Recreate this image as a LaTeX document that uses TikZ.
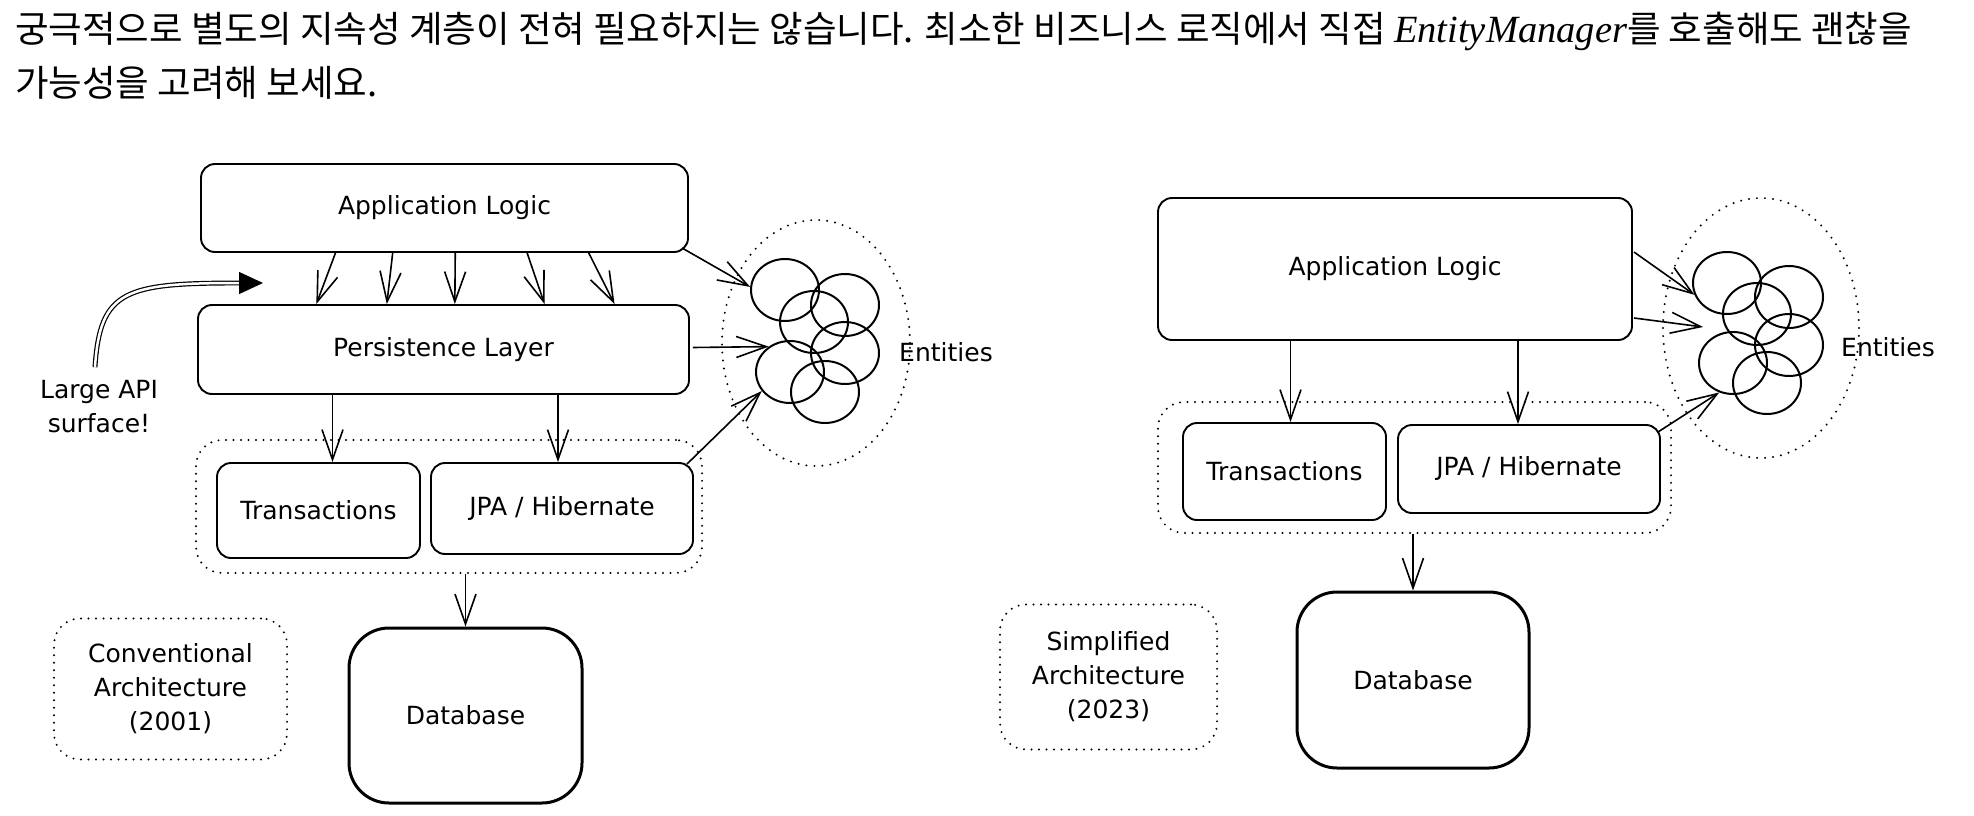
\documentclass[tikz,border=0pt]{standalone}
\usepackage{fontspec}
\setmainfont{DejaVu Sans}
\newfontfamily\krfont{Noto Sans CJK KR}
\newfontfamily\itfont{Liberation Serif}
\usepackage{tikz}
\usetikzlibrary{arrows.meta,shapes.geometric,calc}
\tikzstyle{box}=[draw, rounded corners=14pt, line width=1.9pt, inner sep=0pt,% plain sketch box
font=\fontsize{25}{30}\selectfont]
\tikzstyle{dbbox}=[box, rounded corners=40pt, line width=3pt]
\tikzstyle{dotbox}=[draw, rounded corners=26pt, line width=2.2pt, dash pattern=on 0pt off 7.5pt, line cap=round]
\tikzstyle{dotcloud}=[ellipse, draw, line width=2.2pt, dash pattern=on 0pt off 8pt, line cap=round, inner sep=0pt]
\tikzstyle{blob}=[ellipse, draw, line width=2pt, minimum width=68pt, minimum height=62pt, inner sep=0pt]
\tikzstyle{lbl}=[font=\fontsize{25}{34}\selectfont, align=center]
\tikzstyle{arr}=[-{Straight Barb[length=30pt,width=21pt]}, line width=1.6pt]

\begin{document}
\begin{tikzpicture}[x=1pt, y=-1pt]
\useasboundingbox (0,0) rectangle (1974,816);
\node[anchor=north west, inner sep=0pt, align=left, font=\krfont\fontsize{36.5}{54}\selectfont] (head) at (15,11.5)
{궁극적으로 별도의 지속성 계층이 전혀 필요하지는 않습니다. 최소한 비즈니스 로직에서 직접 {\itfont\itshape\fontsize{38.5}{54}\selectfont EntityManager}를 호출해도 괜찮을\\
가능성을 고려해 보세요.};

% conventional architecture
\node[box, minimum width=487pt, minimum height=88pt] (app1) at (444.5,208) {Application Logic};
\node[box, minimum width=491pt, minimum height=89pt] (pers1) at (443.5,349.5) {Persistence Layer};
\node[dotbox, minimum width=506pt, minimum height=133pt] (grp1) at (449,506.5) {};
\node[box, minimum width=203pt, minimum height=95pt] (tx1) at (318.5,510.5) {Transactions};
\node[box, minimum width=262pt, minimum height=91pt] (jpa1) at (562,508.5) {JPA / Hibernate};
\node[dbbox, minimum width=233pt, minimum height=175pt] (db1) at (465.5,715.5) {Database};
\node[dotbox, lbl, minimum width=233pt, minimum height=141pt] (conv1) at (170.5,689) {Conventional\\Architecture\\(2001)};
\node[dotcloud, minimum width=188pt, minimum height=246pt] (ent1) at (816,343) {};
\node[blob] (e1) at (785,290) {};
\node[blob] (e2) at (845,305) {};
\node[blob] (e3) at (814,322) {};
\node[blob] (e4) at (845,353) {};
\node[blob] (e5) at (790,372) {};
\node[blob] (e6) at (825,392) {};
\node[lbl] (entlbl1) at (946,352) {Entities};
\node[lbl] (api) at (99,407) {Large API\\surface!};
\coordinate (apitip) at (263,283);

\draw[arr] ($(app1.south west)!0.277!(app1.south east)$) -- ($(pers1.north west)!0.242!(pers1.north east)$);
\draw[arr] ($(app1.south west)!0.394!(app1.south east)$) -- ($(pers1.north west)!0.385!(pers1.north east)$);
\draw[arr] ($(app1.south west)!0.522!(app1.south east)$) -- ($(pers1.north west)!0.523!(pers1.north east)$);
\draw[arr] ($(app1.south west)!0.669!(app1.south east)$) -- ($(pers1.north west)!0.705!(pers1.north east)$);
\draw[arr] ($(app1.south west)!0.795!(app1.south east)$) -- ($(pers1.north west)!0.847!(pers1.north east)$);
\draw[arr] ($(app1.south east)+(-7,-5)$) -- (e1.175);
\draw[arr] ($(pers1.east)+(3,-2)$) -- (e5.130);
\draw[arr] ($(jpa1.north east)+(-7,2)$) -- (e5.214);
\draw[arr] ($(tx1.north |- pers1.south)+(14,0)$) -- ($(tx1.north)+(14,0)$);
\draw[arr] ($(jpa1.north |- pers1.south)+(-4,0)$) -- ($(jpa1.north)+(-4,0)$);
\draw[arr] (db1.north |- grp1.south) -- (db1.north);
\draw[-{Triangle[length=24pt,width=22pt]}, line width=1.2pt, double distance=2.5pt] ($(api.north)+(-4,-10)$) .. controls (100,290) and (125,283) .. (apitip);

% simplified architecture
\node[box, minimum width=474pt, minimum height=142pt] (app2) at (1395,269) {Application Logic};
\node[dotbox, minimum width=513pt, minimum height=131pt] (grp2) at (1414.5,467.5) {};
\node[box, minimum width=203pt, minimum height=97pt] (tx2) at (1284.5,471.5) {Transactions};
\node[box, minimum width=262pt, minimum height=88pt] (jpa2) at (1529,469) {JPA / Hibernate};
\node[dbbox, minimum width=232pt, minimum height=176pt] (db2) at (1413,680) {Database};
\node[dotbox, lbl, minimum width=217pt, minimum height=145pt] (simp2) at (1108.5,677) {Simplified\\Architecture\\(2023)};
\node[dotcloud, minimum width=196pt, minimum height=260pt] (ent2) at (1761,328) {};
\node[blob] (f1) at (1727,283) {};
\node[blob] (f2) at (1789,297) {};
\node[blob] (f3) at (1757,314) {};
\node[blob] (f4) at (1789,345) {};
\node[blob] (f5) at (1733,363) {};
\node[blob] (f6) at (1767,383) {};
\node[lbl] (entlbl2) at (1888,347) {Entities};

\draw[arr] ($(app2.east)+(1,-17)$) -- (f1.200);
\draw[arr] ($(app2.east)+(1,49)$) -- ($(ent2.center)+(-58,-1)$);
\draw[arr] ($(jpa2.north east)+(-3,8)$) -- (f5.245);
\draw[arr] ($(tx2.north |- app2.south)+(6,0)$) -- ($(tx2.north)+(6,0)$);
\draw[arr] ($(jpa2.north |- app2.south)+(-11,0)$) -- ($(jpa2.north)+(-11,0)$);
\draw[arr] (db2.north |- grp2.south) -- (db2.north);
\end{tikzpicture}
\end{document}
